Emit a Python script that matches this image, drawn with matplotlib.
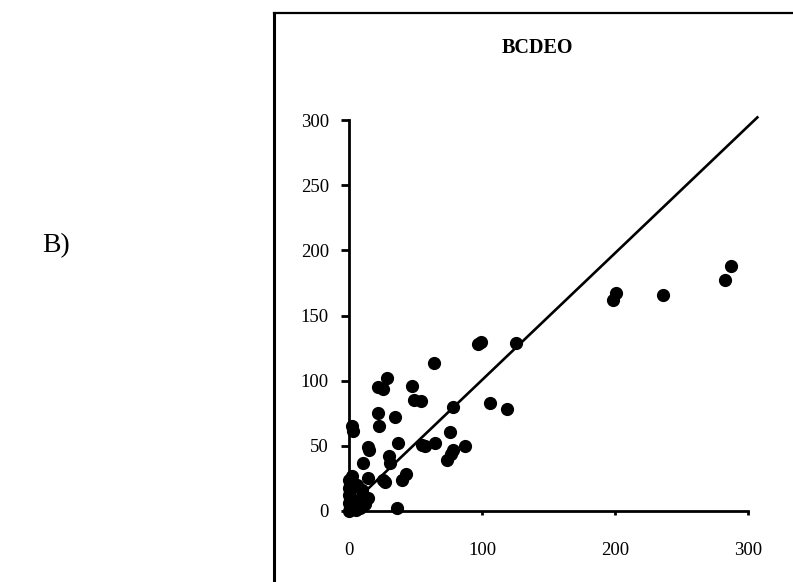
import matplotlib
matplotlib.use("Agg")
import matplotlib.pyplot as plt
from matplotlib.lines import Line2D

plt.rcParams['font.family'] = ['Liberation Serif', 'DejaVu Serif']

x_vals = [0, 1, 0, 1, 0, 1, 0, 1, 0, 2, 3, 5, 8, 9, 10, 14, 12, 6, 2, 3,
          10.3, 14.5, 15, 14.5, 25.8, 27, 30.3, 30.8, 35.9, 37, 42.9, 39.6,
          22.8, 21.6, 34.6, 22, 25.8, 28.3, 47, 48.9, 53.9, 63.9, 78, 76,
          54.7, 57.1, 64.7, 87.2, 78.5, 76.5, 73.5, 97, 99.5, 125.6, 106, 119,
          201, 198.7, 235.8, 287, 283]
y_vals = [0, 3, 6, 9, 12, 15, 18, 21, 24, 27, 5, 1, 2, 10, 16, 10, 5, 20, 65, 61,
          37, 49, 47, 25, 23.8, 22, 42, 36.6, 2, 52.4, 28.4, 23.8,
          65, 75.5, 72.4, 95.4, 93.4, 101.8, 96, 85.2, 84.7, 113.3, 79.6, 60.4,
          50.7, 50.1, 52.4, 49.9, 46.5, 43.7, 39.1, 128, 130, 128.6, 82.6, 78,
          167, 162, 165.8, 188, 177]

# recta de referencia
recta_x = [6, 307]
recta_y = [9, 302]

fig = plt.figure(figsize=(7.93, 5.82), dpi=100)
ax = fig.add_axes([0.4401, 0.1220, 0.5032, 0.6718])

ax.plot(recta_x, recta_y, color='black', lw=1.9, clip_on=False, zorder=2)
ax.scatter(x_vals, y_vals, s=72, color='black', clip_on=False, zorder=3)

ax.set_xlim(0, 300)
ax.set_ylim(0, 300)
ax.set_xticks([0, 100, 200, 300])
ax.set_yticks(range(0, 301, 50))
for lado in ['top', 'right']:
    ax.spines[lado].set_visible(False)
for lado in ['left', 'bottom']:
    ax.spines[lado].set_linewidth(2.0)
ax.tick_params(axis='y', direction='out', length=5.5, width=2, pad=9, labelsize=13.5)
ax.tick_params(axis='x', direction='out', length=3, width=2, pad=19, labelsize=13.5)

fig.text(537 / 793, 1 - 48 / 582, 'BCDEO', ha='center', va='center',
         fontsize=14.5, fontweight='bold')
fig.text(56 / 793, 1 - 246 / 582, 'B)', ha='center', va='center', fontsize=20)

# marco del panel
fx = 274 / 793
fy = 1 - 13 / 582
fig.add_artist(Line2D([fx, fx], [0, fy], transform=fig.transFigure, color='black', lw=2.2))
fig.add_artist(Line2D([fx, 1], [fy, fy], transform=fig.transFigure, color='black', lw=1.6))

fig.savefig('out.png', dpi=100)
